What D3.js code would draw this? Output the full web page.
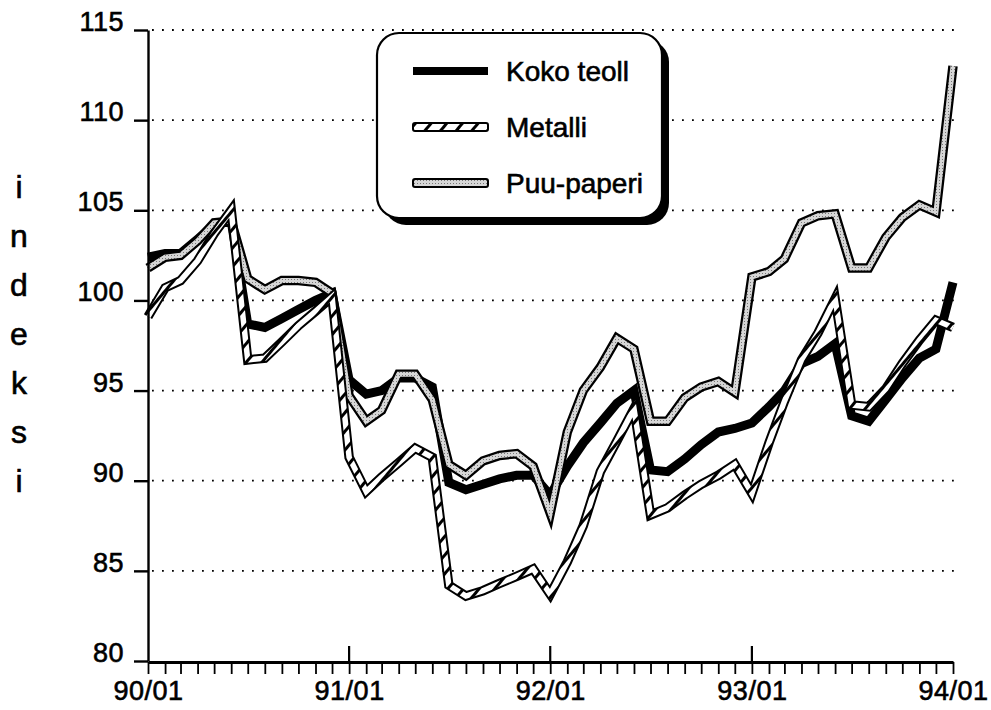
<!DOCTYPE html>
<html>
<head>
<meta charset="utf-8">
<script src="https://cdn.jsdelivr.net/npm/d3@7"></script>
<style>
  body{margin:0;background:#fff}
  svg text{font-family:"Liberation Sans",Arial,sans-serif;fill:#000;stroke:#000;stroke-width:0.6px}
</style>
</head>
<body>
<svg id="chart" width="991" height="710"></svg>
<script>
// monthly index values 90/01 .. 94/01 (49 points)
const koko=[102.4,102.6,102.6,103.4,104.2,104.4,98.7,98.5,99.0,99.5,100.0,100.4,
  95.6,94.8,95.0,95.7,95.7,95.2,89.9,89.5,89.8,90.1,90.3,90.3,
  89.2,90.8,92.1,93.2,94.3,95.0,90.6,90.5,91.2,92.0,92.7,92.9,
  93.2,94.1,95.0,96.5,96.9,97.6,93.6,93.3,94.5,95.7,96.8,97.3,101.0]
const metalli=[99.1,100.7,101.1,102.2,103.7,105.0,96.7,96.8,97.7,98.6,99.4,100.2,
  91.3,89.4,90.2,91.0,91.8,91.3,84.2,83.6,83.9,84.3,84.7,85.1,
  83.7,85.5,87.5,90.5,92.2,94.0,88.1,88.5,89.2,89.8,90.3,90.9,
  89.3,92.1,94.4,96.7,98.2,100.1,94.2,94.1,95.1,96.5,97.8,98.9,98.5]
const puu=[101.8,102.4,102.5,103.3,104.3,104.4,101.2,100.6,101.1,101.1,101.0,100.4,
  94.7,93.3,93.9,95.9,95.9,94.5,90.9,90.3,91.1,91.4,91.5,90.8,
  88.2,92.7,95.0,96.3,97.9,97.3,93.3,93.3,94.6,95.2,95.5,94.9,
  101.3,101.6,102.3,104.3,104.7,104.8,101.8,101.8,103.5,104.6,105.3,104.9,113.0]
const yTicks=[80,85,90,95,100,105,110,115]
const gridVals=[85,90,95,100,105,110,115]
const legendNames=["Koko teoll","Metalli","Puu-paperi"]
const yLabel="indeksi"

const months=d3.range(49).map(i=>new Date(1990,i,1))
const fmt=d3.timeFormat("%y/%m")

const svg=d3.select("#chart")
const x=d3.scaleTime().domain([months[0],months[48]]).range([148,953])
const y=d3.scaleLinear().domain([80,115]).range([661,30])

// diagonal hatch for Metalli
const defs=svg.append("defs")
const hatch=defs.append("pattern")
  .attr("id","hatch")
  .attr("patternUnits","userSpaceOnUse")
  .attr("width",12).attr("height",12)
  .attr("patternTransform","rotate(40)")
hatch.append("rect").attr("width",12).attr("height",12).attr("fill","#fff")
hatch.append("rect").attr("width",3).attr("height",12).attr("fill","#000")

// stipple for Puu-paperi
const dots=defs.append("pattern")
  .attr("id","dots")
  .attr("patternUnits","userSpaceOnUse")
  .attr("width",3).attr("height",3)
dots.append("rect").attr("width",3).attr("height",3).attr("fill","#d6d6d6")
dots.append("rect").attr("width",1).attr("height",1).attr("fill","#777")

// dotted grid
svg.append("g").selectAll("line")
  .data(gridVals)
  .enter()
  .append("line")
  .attr("x1",152).attr("x2",956)
  .attr("y1",d=>y(d)).attr("y2",d=>y(d))
  .attr("stroke","#000").attr("stroke-width",1.8)
  .attr("stroke-dasharray","1.8,8.2")

// y label, one letter per row
svg.append("g").selectAll("text")
  .data(yLabel.split(""))
  .enter()
  .append("text")
  .attr("x",19).attr("y",(d,i)=>198+i*49)
  .attr("text-anchor","middle")
  .style("font-size","32px")
  .text(d=>d)

// lines
const line=d3.line()
  .x((d,i)=>x(months[i]))
  .y(d=>y(d))

const plot=svg.append("g")
plot.append("path").datum(koko)
  .attr("d",line).attr("fill","none")
  .attr("stroke","#000").attr("stroke-width",9)

plot.append("path").datum(puu)
  .attr("d",line).attr("fill","none")
  .attr("stroke","#000").attr("stroke-width",9.5)
plot.append("path").datum(puu)
  .attr("d",line).attr("fill","none")
  .attr("stroke","url(#dots)").attr("stroke-width",5)

plot.append("path").datum(metalli)
  .attr("d",line).attr("fill","none")
  .attr("stroke","#000").attr("stroke-width",9.5)
plot.append("path").datum(metalli)
  .attr("d",line).attr("fill","none")
  .attr("stroke","url(#hatch)").attr("stroke-width",5.5)

// axes
const yaxis=d3.axisLeft(y)
  .tickValues(yTicks)
  .tickSizeInner(14).tickSizeOuter(0).tickPadding(10)
const gy=svg.append("g").attr("transform","translate(148,0)").call(yaxis)
gy.select(".domain").attr("stroke-width",2.4)
gy.selectAll(".tick line").attr("stroke-width",2.4)
gy.selectAll(".tick text").attr("dy","0.02em")
  .style("font-size","27px").style("letter-spacing","0.5px")
  .style("font-family","Liberation Sans, Arial, sans-serif")

const xaxis=d3.axisBottom(x)
  .tickValues(months)
  .tickSizeInner(12).tickSizeOuter(0).tickPadding(7)
  .tickFormat(d=>d.getMonth()===0?fmt(d):"")
const gx=svg.append("g").attr("transform","translate(0,662)").call(xaxis)
gx.select(".domain").attr("stroke-width",3)
gx.selectAll(".tick line").attr("stroke-width",1.8)
gx.selectAll(".tick text")
  .style("font-size","27px").style("letter-spacing","0.5px")
  .style("font-family","Liberation Sans, Arial, sans-serif")

// year ticks reaching up into the plot
svg.append("g").selectAll("line")
  .data(months.filter((d,i)=>i>0&&i<48&&d.getMonth()===0))
  .enter()
  .append("line")
  .attr("x1",d=>x(d)).attr("x2",d=>x(d))
  .attr("y1",646).attr("y2",662)
  .attr("stroke","#000").attr("stroke-width",2.2)

// legend
const lg=svg.append("g")
lg.append("rect")
  .attr("x",384).attr("y",40).attr("width",285).attr("height",185)
  .attr("rx",22).attr("ry",22).attr("fill","#000")
lg.append("rect")
  .attr("x",377).attr("y",33).attr("width",285).attr("height",185)
  .attr("rx",22).attr("ry",22).attr("fill","#fff")
  .attr("stroke","#000").attr("stroke-width",2.2)

const rows=[71,127,183]
legendNames.forEach((name,i)=>{
  const ly=rows[i]
  if(i===0){
    lg.append("line").attr("x1",413).attr("x2",488).attr("y1",ly).attr("y2",ly)
      .attr("stroke","#000").attr("stroke-width",8)
  }else{
    lg.append("rect").attr("x",413).attr("y",ly-4).attr("width",75).attr("height",8)
      .attr("rx",2).attr("fill",i===1?"url(#hatch)":"url(#dots)")
      .attr("stroke","#000").attr("stroke-width",2)
  }
  lg.append("text").attr("x",506).attr("y",ly+10)
    .style("font-size","28px").text(name)
})
</script>
</body>
</html>
